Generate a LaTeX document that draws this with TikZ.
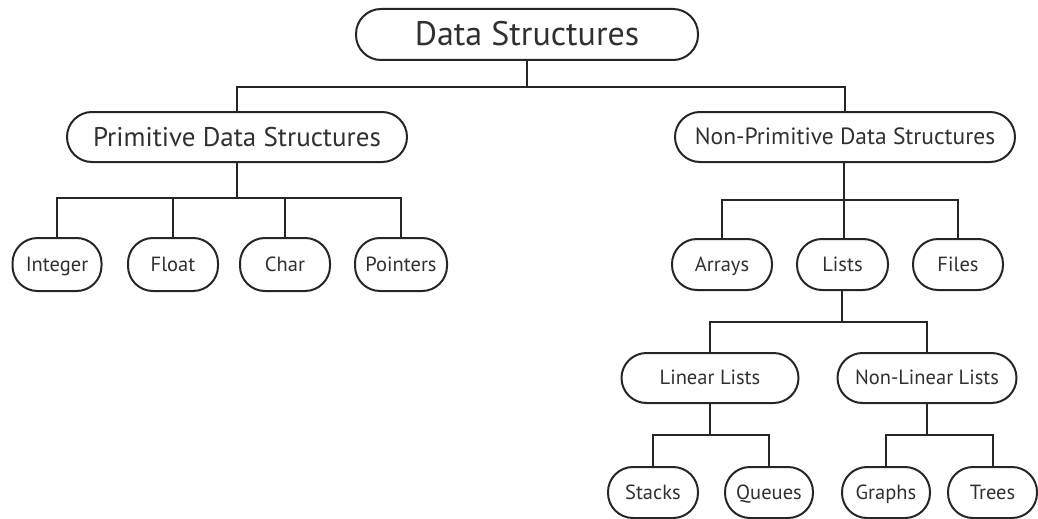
\documentclass[tikz,border=0pt]{standalone}
\usepackage{fontspec}
\setmainfont{PT Sans}
\definecolor{ink}{HTML}{262626}
\definecolor{txt}{HTML}{303030}
\tikzset{
  box/.style={draw=ink, line width=2pt, rounded corners=#1, inner sep=0pt, text=txt, align=center},
  box/.default=24pt,
  conn/.style={draw=ink, line width=2pt},
  big/.style={font=\fontsize{34}{34}\selectfont, text height=24pt, text depth=1pt},
  mid/.style={font=\fontsize{27}{27}\selectfont, text height=19pt, text depth=1pt},
  mids/.style={font=\fontsize{23.5}{23.5}\selectfont, text height=16.5pt, text depth=1pt},
  sml/.style={font=\fontsize{20.5}{20.5}\selectfont, text height=14.5pt, text depth=1pt},
}
\begin{document}
\begin{tikzpicture}[x=1pt,y=-1pt]
\useasboundingbox (0,0) rectangle (1038,519);
% level 0
\node[box=25pt, big, minimum width=342pt, minimum height=51pt] (ds) at (527,34.5) {Data Structures};
% level 1
\node[box=25pt, mid, minimum width=340pt, minimum height=50pt] (prim) at (237,137) {Primitive Data Structures};
\node[box=25pt, mids, minimum width=340pt, minimum height=50pt] (nonp) at (845,137) {Non-Primitive Data Structures};
% primitive leaves
\node[box=25pt, sml, minimum width=89pt, minimum height=53pt] (int) at (57,264.5) {Integer};
\node[box=25pt, sml, minimum width=90pt, minimum height=53pt] (flt) at (173,264.5) {Float};
\node[box=25pt, sml, minimum width=90pt, minimum height=53pt] (chr) at (285,264.5) {Char};
\node[box=25pt, sml, minimum width=92pt, minimum height=53pt] (ptr) at (401,264.5) {Pointers};
% non-primitive children
\node[box=25pt, sml, minimum width=100pt, minimum height=51pt] (arr) at (722,264.5) {Arrays};
\node[box=25pt, sml, minimum width=91pt, minimum height=51pt] (lst) at (842.5,264.5) {Lists};
\node[box=25pt, sml, minimum width=90pt, minimum height=51pt] (fil) at (958,264.5) {Files};
% lists children
\node[box=25pt, sml, minimum width=177pt, minimum height=50pt] (lin) at (710,378) {Linear Lists};
\node[box=25pt, sml, minimum width=179pt, minimum height=50pt] (nlin) at (927,378) {Non-Linear Lists};
% bottom leaves
\node[box=25pt, sml, minimum width=90pt, minimum height=51pt] (stk) at (653,492.5) {Stacks};
\node[box=25pt, sml, minimum width=88pt, minimum height=51pt] (que) at (769,492.5) {Queues};
\node[box=25pt, sml, minimum width=88pt, minimum height=51pt] (gra) at (886,492.5) {Graphs};
\node[box=25pt, sml, minimum width=89pt, minimum height=51pt] (tre) at (992.5,492.5) {Trees};
% bus coordinates
\coordinate (b0) at (527,87);
\coordinate (b1) at (237,198);
\coordinate (b2) at (844,200);
\coordinate (b3) at (842,322);
\coordinate (b4) at (710,435);
\coordinate (b5) at (927,435);
% connectors
\draw[conn] (ds.south -| b0) -- (b0);
\draw[conn] (prim.north) |- (b0) -| (nonp.north);
\draw[conn] (prim.south) -- (b1);
\draw[conn] (int.north) |- (b1) -| (ptr.north);
\draw[conn] (flt.north) |- (b1);
\draw[conn] (chr.north) |- (b1);
\draw[conn] (nonp.south -| b2) -- (lst.north -| b2);
\draw[conn] (arr.north) |- (b2) -| (fil.north);
\draw[conn] (lst.south -| b3) -- (b3);
\draw[conn] (lin.north) |- (b3) -| (nlin.north);
\draw[conn] (lin.south) -- (b4);
\draw[conn] (stk.north) |- (b4) -| (que.north);
\draw[conn] (nlin.south) -- (b5);
\draw[conn] (gra.north) |- (b5) -| (tre.north);
\end{tikzpicture}
\end{document}
